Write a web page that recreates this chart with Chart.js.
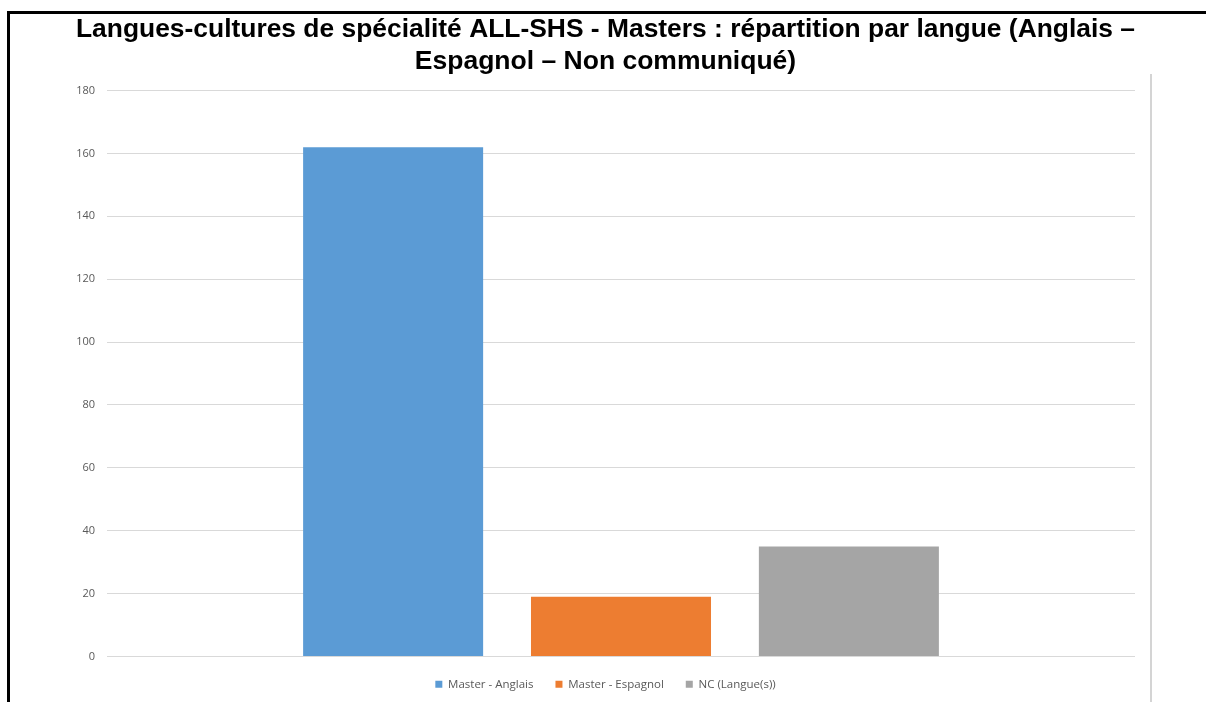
<!DOCTYPE html>
<html>
<head>
<meta charset="utf-8">
<script src="https://cdn.jsdelivr.net/npm/chart.js@4/dist/chart.umd.min.js"></script>
<style>
  html, body { margin: 0; padding: 0; background: #fff; }
  #wrap { width: 1206px; height: 702px; position: relative; }
</style>
</head>
<body>
<div id="wrap"><canvas id="chart" width="1206" height="702"></canvas></div>
<script>
// data
const categories = [''];
const seriesNames = ['Master - Anglais', 'Master - Espagnol', 'NC (Langue(s))'];
const anglais = [162];
const espagnol = [19];
const nonCommunique = [35];
const yMax = 180;
const yStep = 20;
const titleLines = [
  'Langues-cultures de spécialité ALL-SHS - Masters : répartition par langue (Anglais –',
  'Espagnol – Non communiqué)'
];

const colors = ['#5b9bd5', '#ed7d31', '#a5a5a5'];

// black frame + light separator, like the document the chart came from
const framePlugin = {
  id: 'frame',
  beforeDraw (chart) {
    const ctx = chart.ctx;
    ctx.save();
    ctx.strokeStyle = '#000';
    ctx.lineWidth = 3;
    ctx.beginPath();
    ctx.moveTo(8.5, chart.height);
    ctx.lineTo(8.5, 12.5);
    ctx.lineTo(chart.width, 12.5);
    ctx.stroke();
    ctx.strokeStyle = '#d4d4d4';
    ctx.lineWidth = 2;
    ctx.beginPath();
    ctx.moveTo(1151, 74);
    ctx.lineTo(1151, chart.height);
    ctx.stroke();
    ctx.restore();
  }
};

const tickFont = { family: '"Open Sans", sans-serif', size: 11 };

new Chart(document.getElementById('chart'), {
  type: 'bar',
  data: {
    labels: categories,
    datasets: [
      { label: seriesNames[0], data: anglais, backgroundColor: colors[0] },
      { label: seriesNames[1], data: espagnol, backgroundColor: colors[1] },
      { label: seriesNames[2], data: nonCommunique, backgroundColor: colors[2] }
    ]
  },
  options: {
    responsive: false,
    animation: false,
    categoryPercentage: 0.665,
    barPercentage: 0.79,
    layout: { padding: { left: 76, right: 71, top: 0, bottom: 2 } },
    plugins: {
      title: {
        display: true,
        text: titleLines,
        color: '#000',
        font: { family: '"Liberation Sans", Arial, sans-serif', size: 26.5, weight: 'bold', lineHeight: 1.2 },
        padding: { top: 14, bottom: 13 }
      },
      legend: {
        position: 'bottom',
        labels: {
          color: '#595959',
          font: { family: '"Open Sans", sans-serif', size: 11.5 },
          boxWidth: 7,
          boxHeight: 7,
          padding: 22
        }
      },
      tooltip: { enabled: false }
    },
    scales: {
      x: {
        grid: { display: false },
        border: { display: false },
        ticks: { display: false },
        afterFit (scale) { scale.height = 0; }
      },
      y: {
        min: 0,
        max: yMax,
        ticks: { stepSize: yStep, color: '#595959', font: tickFont, padding: 12 },
        grid: { color: '#d9d9d9', drawTicks: false },
        border: { display: false },
        afterFit (scale) { scale.width = 31; }
      }
    }
  },
  plugins: [framePlugin]
});
</script>
</body>
</html>
